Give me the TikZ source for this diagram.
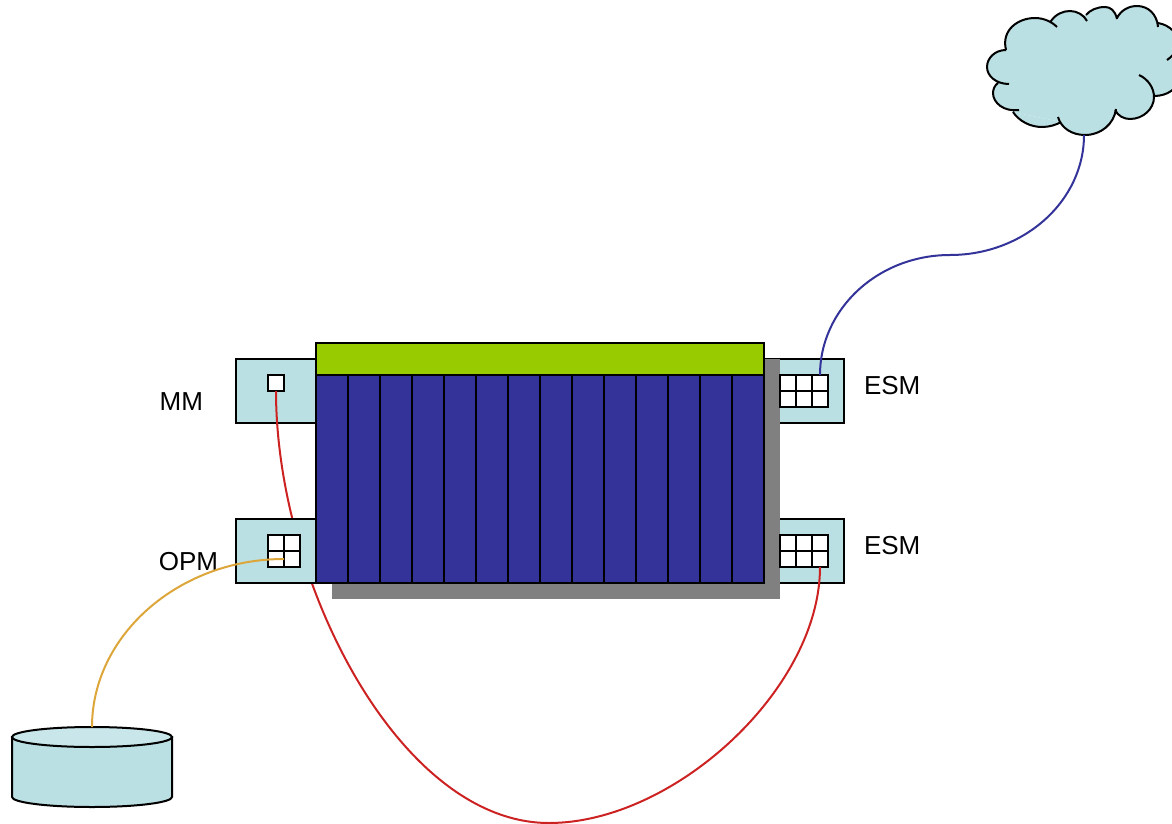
\documentclass[tikz,border=0pt]{standalone}
\usepackage{fontspec}
\setmainfont{Liberation Sans}
\usepackage{tikz}
\usetikzlibrary{positioning}
\definecolor{modteal}{HTML}{BBE0E3}
\definecolor{modtop}{HTML}{C9E7EA}
\definecolor{slotblue}{HTML}{333399}
\definecolor{bargreen}{HTML}{99CC00}
\definecolor{wirered}{HTML}{CC2222}
\definecolor{wireorange}{HTML}{DDA63A}

\begin{document}
\begin{tikzpicture}[
        x=1pt, y=-1pt,
        every node/.style={inner sep=0pt, outer sep=0pt},
        box/.style={draw, line width=2pt},
        modbox/.style={box, fill=modteal, minimum width=80pt, minimum height=64pt},
        slotbox/.style={box, fill=slotblue, minimum width=32pt, minimum height=208pt},
        cellbox/.style={box, fill=white, minimum width=16pt, minimum height=16pt},
        label/.style={font=\fontsize{26}{30}\selectfont},
        wire/.style={line width=2pt},
        node distance=33pt
    ]
    \useasboundingbox (0,0) rectangle (1172,824);

    % Management Module
    \node[modbox] (mm) at (276,391) {};
    \node[label, left=of mm, yshift=-11pt] (mmlabel) {MM};
    \node[cellbox] (mmport) at (276,383) {};

    % Switch Modules
    \node[modbox, right=448pt of mm] (esma) {};
    \node[modbox, below=96pt of esma] (esmb) {};
    \node[label, right=20pt of esma, yshift=5pt] (esmalabel) {ESM};
    \node[label, right=20pt of esmb, yshift=5pt] (esmblabel) {ESM};

    % Chassis Shadow
    \fill[gray] (332,359) rectangle (780,599);

    % Chassis Top Bar and Slots
    \node[box, fill=bargreen, minimum width=448pt, minimum height=32pt] (bar) at (540,359) {};
    \node[slotbox] (slot1) at (332,479) {};
    \foreach \i [remember=\i as \j (initially 1)] in {2,...,14}
        \node[slotbox, right=0pt of slot\j] (slot\i) {};

    % Switch Module Ports
    \foreach \c in {1,2,3} \foreach \r in {1,2} {
        \node[cellbox] (esmacell\c\r) at (772+16*\c,367+16*\r) {};
        \node[cellbox] (esmbcell\c\r) at (772+16*\c,527+16*\r) {};
    }

    % Red Cable
    \coordinate (redlow) at (549,823);
    \draw[wire, wirered] (mmport.south) .. controls +(0,190) and +(-150,0) .. (redlow)
        .. controls +(125,0) and +(0,122) .. (esmbcell32.south);

    % Optical Module
    \node[modbox, below=96pt of mm] (opm) {};
    \node[label, left=18pt of opm, yshift=-11pt] (opmlabel) {OPM};
    \foreach \c in {1,2} \foreach \r in {1,2}
        \node[cellbox] (opmcell\c\r) at (260+16*\c,527+16*\r) {};

    % Disk
    \draw[line width=2pt, fill=modteal] (12,737) -- (12,797) .. controls (12,802.5) and (48,807) .. (92,807)
        .. controls (136,807) and (172,802.5) .. (172,797) -- (172,737) -- cycle;
    \draw[line width=2pt, fill=modtop] (92,737) ellipse [x radius=80pt, y radius=10pt];
    \coordinate (disktop) at (92,727);

    % Orange Cable
    \draw[wire, wireorange] (opmcell12.east) .. controls +(-105,0) and +(0,-92) .. (disktop);

    % Cloud
    \fill[modteal] (1006,50) -- (1051,21) -- (1086,15) -- (1117,18) -- (1158,23) -- (1172,50)
        -- (1172,90) -- (1154,96) -- (1116,109) -- (1061,122) -- (1013,112) -- (998,83) -- cycle;
    \draw[line width=2pt, fill=modteal]
        (1006,50) .. controls (1001,30) and (1018,18) .. (1035,18) .. controls (1044,18) and (1052,22) .. (1057,27)
        (1051,21) .. controls (1056,14) and (1063,11) .. (1070,11) .. controls (1077,11) and (1084,15) .. (1087,21)
        (1086,15) .. controls (1090,10) and (1097,7) .. (1105,7) .. controls (1110,7) and (1115,10) .. (1117,19)
        (1117,18) .. controls (1121,10) and (1129,6) .. (1137,6) .. controls (1148,6) and (1157,14) .. (1158,27)
        (1158,23) .. controls (1170,25) and (1178,34) .. (1178,42) .. controls (1178,50) and (1174,55) .. (1167,60)
        (1180,78) .. controls (1178,88) and (1168,96) .. (1154,96)
        (1139,75) .. controls (1148,79) and (1154,88) .. (1154,97) .. controls (1154,109) and (1143,119) .. (1130,119) .. controls (1124,119) and (1118,116) .. (1115,110)
        (1116,109) .. controls (1114,124) and (1101,135) .. (1085,135) .. controls (1072,135) and (1061,128) .. (1058,117)
        (1061,122) .. controls (1056,125) and (1049,127) .. (1042,127) .. controls (1030,127) and (1019,121) .. (1013,112)
        (1019,110) .. controls (1004,112) and (993,103) .. (993,93) .. controls (993,89) and (995,85) .. (998,83)
        (1009,84) .. controls (996,84) and (987,76) .. (987,67) .. controls (987,58) and (995,50) .. (1006,50);
    \coordinate (cloudfoot) at (1084,135);

    % Blue Cable
    \coordinate (bluemid) at (950,255);
    \draw[wire, slotblue] (esmacell31.north) .. controls +(0,-66) and +(-72,0) .. (bluemid)
        .. controls +(74,0) and +(0,66) .. (cloudfoot);

\end{tikzpicture}
\end{document}
